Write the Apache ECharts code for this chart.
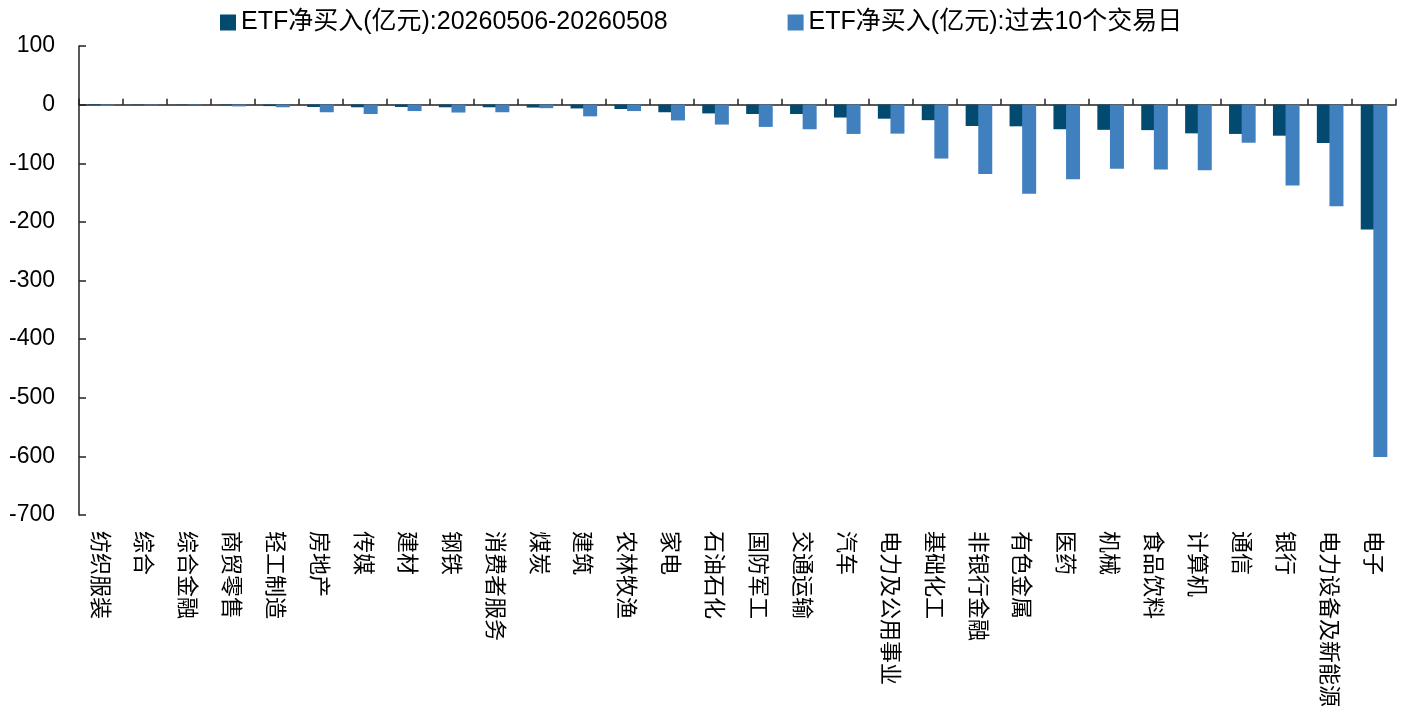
<!DOCTYPE html>
<html>
<head>
<meta charset="utf-8">
<script src="https://cdn.jsdelivr.net/npm/echarts@6/dist/echarts.min.js"></script>
<style>html,body{margin:0;padding:0;background:#fff;}#c{width:1408px;height:715px;}</style>
</head>
<body>
<div id="c"></div>
<script>
const categories = ['纺织服装','综合','综合金融','商贸零售','轻工制造','房地产','传媒','建材','钢铁','消费者服务','煤炭','建筑','农林牧渔','家电','石油石化','国防军工','交通运输','汽车','电力及公用事业','基础化工','非银行金融','有色金属','医药','机械','食品饮料','计算机','通信','银行','电力设备及新能源','电子'];
const seriesNames = ['ETF净买入(亿元):20260506-20260508','ETF净买入(亿元):过去10个交易日'];
const recent = [1,-0.5,-0.5,-1,-2.5,-4,-4.5,-4,-4.5,-4.5,-5,-6.5,-7.5,-13,-15,-16,-16,-22,-24,-26.5,-36.5,-37,-42,-43,-43.5,-49,-50,-53,-65.5,-213];
const past10 = [-2,-1.5,-1,-3,-4.5,-13,-16,-11,-13.5,-13,-6,-20,-11,-27,-34,-38,-42,-50,-49.5,-92,-118.5,-152,-127.5,-109.5,-110.5,-112,-65,-138,-173.5,-601];
const yTicks = {min:-700, max:100, interval:100};

const chart = echarts.init(document.getElementById('c'));
const font = '"Liberation Sans", Arial, "Noto Sans CJK SC", sans-serif';
chart.setOption({
  animation:false,
  textStyle:{fontFamily:font},
  legend:{
    top:5, left:215, itemWidth:16, itemHeight:16, itemGap:120, icon:'rect',
    textStyle:{fontSize:25, color:'#000', fontFamily:font},
    data:seriesNames
  },
  grid:{left:79, right:12, top:46, bottom:200, containLabel:false},
  xAxis:[
    {type:'category', data:categories, position:'bottom',
     axisLine:{show:false, onZero:false}, axisTick:{show:false},
     axisLabel:{rotate:-90, fontSize:22, color:'#000', margin:16, interval:0, fontFamily:'"Noto Sans CJK SC", sans-serif'}},
    {type:'category', data:categories, position:'bottom',
     axisLine:{show:true, onZero:true, lineStyle:{color:'#222', width:1.5}},
     axisTick:{show:true, inside:true, interval:0, length:6, lineStyle:{color:'#222', width:1.5}},
     axisLabel:{show:false}}
  ],
  yAxis:{type:'value', min:yTicks.min, max:yTicks.max, interval:yTicks.interval,
    axisLine:{show:true, lineStyle:{color:'#222', width:1.5}},
    axisTick:{show:true, inside:true, length:7, lineStyle:{color:'#222', width:1.5}},
    splitLine:{show:false},
    axisLabel:{fontSize:23, color:'#000', margin:24, fontFamily:font}},
  series:[
    {name:seriesNames[0], type:'bar', xAxisIndex:0, data:recent, barWidth:14, barGap:'-10%', itemStyle:{color:'#024a70'}},
    {name:seriesNames[1], type:'bar', xAxisIndex:0, data:past10, barWidth:14, barGap:'-10%', itemStyle:{color:'#4180bf'}}
  ]
});
</script>
</body>
</html>
